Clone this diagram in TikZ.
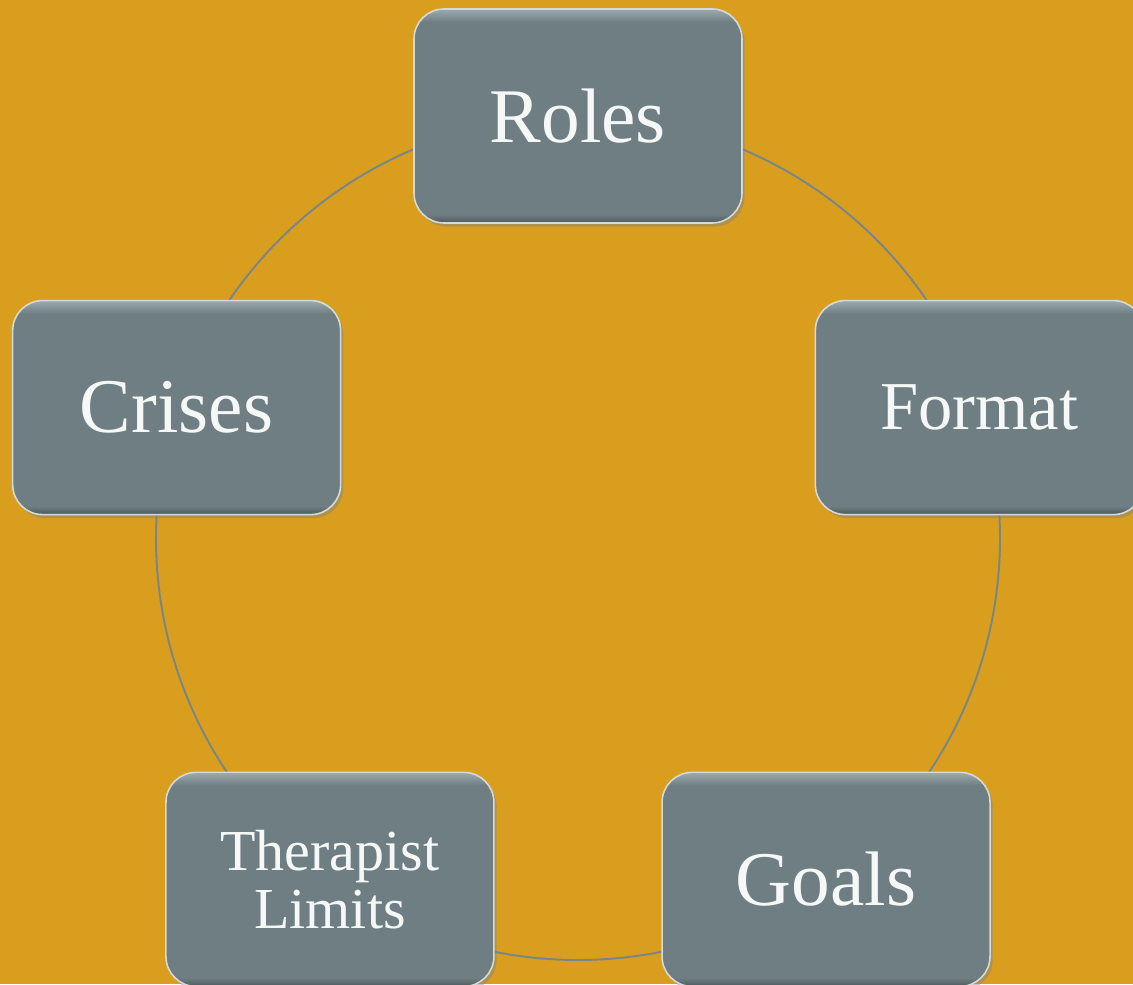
\documentclass[tikz,border=0pt]{standalone}
\usepackage{fontspec}
\setmainfont{Liberation Serif}
\usepackage{tikz}
\usetikzlibrary{shadows}
\definecolor{ochreBack}{RGB}{218, 158, 31}
\definecolor{slateFill}{RGB}{110, 126, 130}
\definecolor{slateTop}{RGB}{150, 164, 167}
\definecolor{slateDark}{RGB}{78, 90, 93}
\definecolor{slateEdge}{RGB}{212, 218, 218}
\definecolor{ringGrey}{RGB}{118, 134, 138}
\definecolor{labelWhite}{RGB}{246, 248, 248}

% flat face with a light top rim and a darker lower rim
\pgfdeclareverticalshading{slateBevel}{100bp}{color(0bp)=(slateDark); color(25bp)=(slateDark);
    color(27bp)=(slateFill); color(72bp)=(slateFill); color(74.5bp)=(slateTop); color(100bp)=(slateTop)}

\begin{document}
\begin{tikzpicture}[
        topicBox/.style={draw=slateEdge, line width=0.9pt, rounded corners=0.6cm,
            shading=slateBevel,
            minimum width=6.56cm, minimum height=4.28cm, inner sep=0pt, align=center,
            text=labelWhite,
            drop shadow={shadow xshift=1.5pt, shadow yshift=-2pt, opacity=0.45}},
        bigLabel/.style={font=\fontsize{44pt}{44pt}\selectfont}
    ]
    % page and backdrop
    \path[use as bounding box, fill=ochreBack] (-11.56,-8.92) rectangle (11.10,10.76);

    % the ring behind the boxes
    \coordinate (ringCentre) at (0,0);
    \draw[ringGrey, line width=1.1pt] (ringCentre) circle (8.44);

    \node[topicBox, bigLabel] (roles) at (90:8.44) {Roles};
    \node[topicBox, font=\fontsize{39pt}{39pt}\selectfont] (format) at (18:8.44) {Format};
    \node[topicBox, bigLabel] (goals) at (-54:8.44) {Goals};
    \node[topicBox, font=\fontsize{33pt}{33pt}\selectfont] (limits) at (234:8.44) {Therapist\\Limits};
    \node[topicBox, bigLabel] (crises) at (162:8.44) {Crises};
\end{tikzpicture}
\end{document}
